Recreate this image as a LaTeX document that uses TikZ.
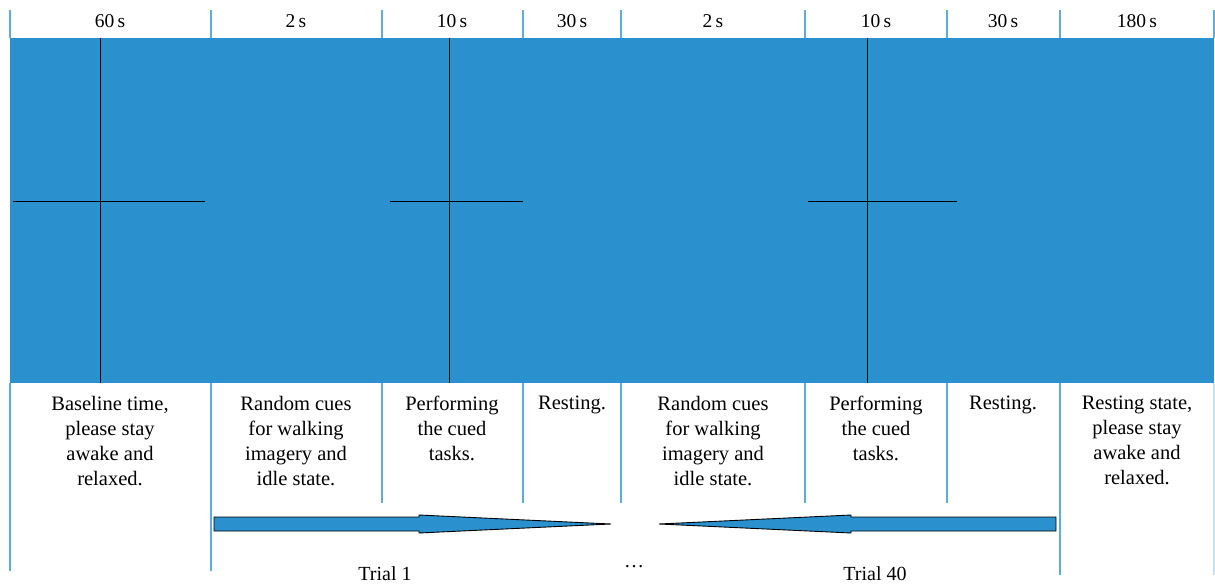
\documentclass[tikz,border=0pt]{standalone}
\usepackage{fontspec}
\setmainfont{Liberation Serif}
\definecolor{panel}{HTML}{2A90CE}
\definecolor{divider}{HTML}{5AAEE3}
\tikzset{
  panelbox/.style={fill=panel, draw=none},
  divline/.style={draw=divider, line width=1.1pt},
  cross/.style={draw=black, line width=0.9pt},
  duration/.style={font=\fontsize{19.5}{22}\selectfont, anchor=center, inner sep=0pt},
  caption/.style={font=\fontsize{20.5}{25}\selectfont, align=center, anchor=north, inner sep=0pt},
  trialarrow/.style={fill=panel, draw=black, line width=0.9pt, line join=miter},
  triallabel/.style={font=\fontsize{20}{22}\selectfont, anchor=center, inner sep=0pt}
}
\begin{document}
\begin{tikzpicture}[x=1pt, y=-1pt]
\useasboundingbox (0,0) rectangle (1215,586);

% stimulus panel
\fill[panelbox] (10,38) rectangle (1214,383);

% column dividers: header ticks
\foreach \x in {10,211,382,523,621,805,947,1060,1214}
  \draw[divline] (\x,10) -- (\x,38);
% dividers below the panel
\foreach \x in {382,523,621,805,947}
  \draw[divline] (\x,383) -- (\x,503);
\foreach \x in {10,211}
  \draw[divline] (\x,383) -- (\x,571);
\draw[divline] (1060,383) -- (1060,575);
\draw[divline, draw=divider!35] (1214,383) -- (1214,575);

% fixation crosses
\draw[cross] (100,38) -- (100,383);
\draw[cross] (13,201) -- (205,201);
\draw[cross] (449,38) -- (449,383);
\draw[cross] (390,201) -- (523,201);
\draw[cross] (867,38) -- (867,383);
\draw[cross] (808,201) -- (957,201);

% durations
\node[duration] (d1) at (110,21) {60\,s};
\node[duration] (d2) at (296,21) {2\,s};
\node[duration] (d3) at (452,21) {10\,s};
\node[duration] (d4) at (572,21) {30\,s};
\node[duration] (d5) at (713,21) {2\,s};
\node[duration] (d6) at (876,21) {10\,s};
\node[duration] (d7) at (1003,21) {30\,s};
\node[duration] (d8) at (1137,21) {180\,s};

% phase descriptions
\node[caption] (c1) at (110,396) {Baseline time,\\please stay\\awake and\\relaxed.};
\node[caption] (c2) at (296,396) {Random cues\\for walking\\imagery and\\idle state.};
\node[caption] (c3) at (452,396) {Performing\\the cued\\tasks.};
\node[caption] (c4) at (572,396) {Resting.};
\node[caption] (c5) at (713,396) {Random cues\\for walking\\imagery and\\idle state.};
\node[caption] (c6) at (876,396) {Performing\\the cued\\tasks.};
\node[caption] (c7) at (1003,396) {Resting.};
\node[caption] (c8) at (1137,396) {Resting state,\\please stay\\awake and\\relaxed.};

% trial arrows
\draw[trialarrow] (214,517) -- (419,517) -- (419,515) -- (611,524)
  -- (419,533) -- (419,531) -- (214,531) -- cycle;
\draw[trialarrow] (1056,517) -- (851,517) -- (851,515) -- (659,524)
  -- (851,533) -- (851,531) -- (1056,531) -- cycle;

% trial labels
\node[triallabel] (t1) at (385,574) {Trial 1};
\node[triallabel] (tdots) at (634,567) {\dots};
\node[triallabel] (t40) at (875,574) {Trial 40};
\end{tikzpicture}
\end{document}
